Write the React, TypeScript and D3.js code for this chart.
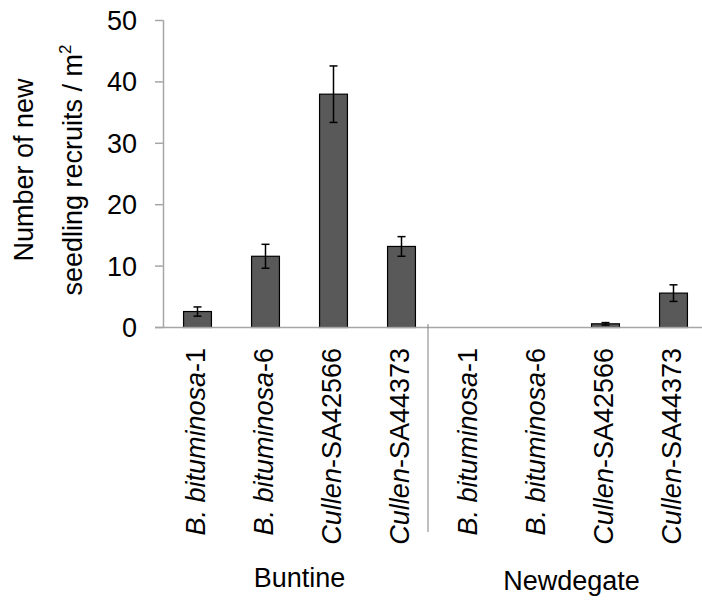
import React from 'react';
import * as d3 from 'd3';

// values
const categories = [
  'B. bituminosa-1', 'B. bituminosa-6', 'Cullen-SA42566', 'Cullen-SA44373',
  'B. bituminosa-1', 'B. bituminosa-6', 'Cullen-SA42566', 'Cullen-SA44373',
];
const italicParts = [
  'B. bituminosa', 'B. bituminosa', 'Cullen', 'Cullen',
  'B. bituminosa', 'B. bituminosa', 'Cullen', 'Cullen',
];
const values = [2.6, 11.6, 38.0, 13.2, 0, 0, 0.6, 5.6];
const errors = [0.75, 1.95, 4.6, 1.6, 0, 0, 0.2, 1.35];
const sites = ['Buntine', 'Newdegate'];
const yTicks = [0, 10, 20, 30, 40, 50];

const W = 702;
const H = 605;
const FONT = '"Liberation Sans", Arial, sans-serif';
const FS = 27;

export default function App() {
  const x = d3.scaleBand<number>()
    .domain(d3.range(categories.length))
    .range([163.5, 707.5])
    .paddingInner(0.59)
    .paddingOuter(0.295);
  const y = d3.scaleLinear().domain([0, 50]).range([327.5, 20.5]);
  const bw = x.bandwidth();
  const cx = (i: number) => (x(i) as number) + bw / 2;
  const axisColor = '#a6a6a6';

  return (
    <svg width={W} height={H} style={{ position: 'absolute', left: 0, top: 0 }} fontFamily={FONT}>
      <rect width={W} height={H} fill="#fff" />

      {/* y axis */}
      <line x1={163.5} x2={163.5} y1={y(50)} y2={y(0)} stroke={axisColor} strokeWidth={1.5} />
      {yTicks.map(t => (
        <g key={t}>
          <line x1={155} x2={163.5} y1={y(t)} y2={y(t)} stroke={axisColor} strokeWidth={1.5} />
          <text x={137} y={y(t)} dy="0.35em" textAnchor="end" fontSize={FS} fill="#000">{t}</text>
        </g>
      ))}

      {/* y title */}
      <text transform="translate(33,170) rotate(-90)" textAnchor="middle" fontSize={FS}>Number of new</text>
      <text transform="translate(82,170) rotate(-90)" textAnchor="middle" fontSize={FS}>
        seedling recruits / m<tspan fontSize={17} dy={-11}>2</tspan>
      </text>

      {/* bars */}
      {values.map((v, i) => (
        v > 0 ? (
          <rect key={i} x={x(i)} y={y(v)} width={bw} height={y(0) - y(v)}
            fill="#595959" stroke="#000" strokeWidth={1.2} />
        ) : null
      ))}

      {/* x axis */}
      <line x1={155} x2={W} y1={y(0)} y2={y(0)} stroke={axisColor} strokeWidth={1.5} />
      <line x1={428} x2={428} y1={324} y2={532} stroke="#808080" strokeWidth={1} />

      {/* error bars */}
      {values.map((v, i) => (
        errors[i] > 0 ? (
          <g key={i} stroke="#000" strokeWidth={1.5}>
            <line x1={cx(i)} x2={cx(i)} y1={y(v + errors[i])} y2={y(v - errors[i])} />
            <line x1={cx(i) - 4} x2={cx(i) + 4} y1={y(v + errors[i])} y2={y(v + errors[i])} />
            <line x1={cx(i) - 4} x2={cx(i) + 4} y1={y(v - errors[i])} y2={y(v - errors[i])} />
          </g>
        ) : null
      ))}

      {/* category labels */}
      {categories.map((c, i) => (
        <text key={i} transform={`translate(${cx(i) - 2},348) rotate(-90)`} dy="0.35em"
          textAnchor="end" fontSize={FS}>
          <tspan fontStyle="italic">{italicParts[i]}</tspan>
          <tspan>{c.slice(italicParts[i].length)}</tspan>
        </text>
      ))}

      {/* site labels */}
      {sites.map((s, k) => (
        <text key={s} x={(cx(k * 4) + cx(k * 4 + 3)) / 2} y={587 + k * 3} textAnchor="middle" fontSize={FS}>{s}</text>
      ))}
    </svg>
  );
}
